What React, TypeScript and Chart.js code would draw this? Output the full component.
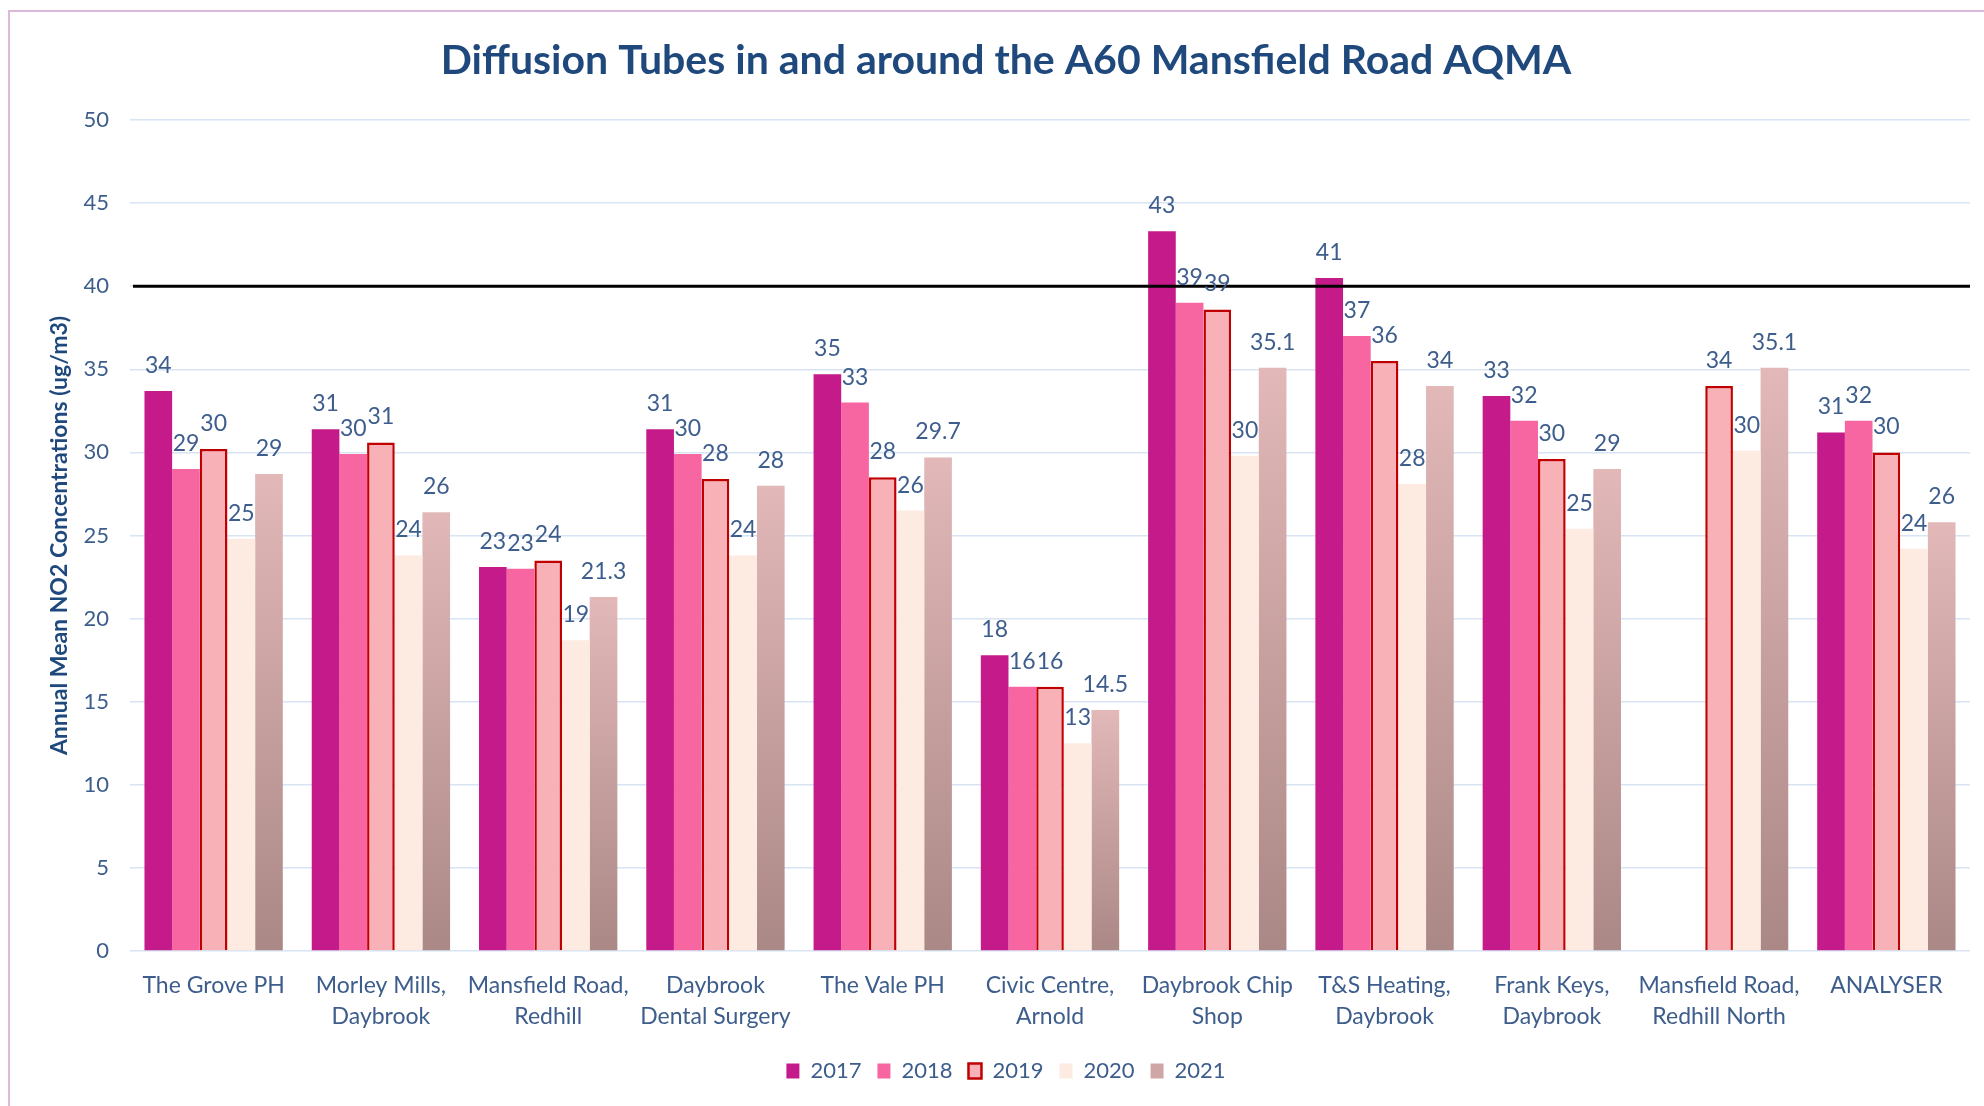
import React, { useEffect, useRef } from "react";
import { Chart, registerables } from "chart.js";

Chart.register(...registerables);

// ---- data ----
const categories: string[][] = [
  ["The Grove PH"],
  ["Morley Mills,", "Daybrook"],
  ["Mansfield Road,", "Redhill"],
  ["Daybrook", "Dental Surgery"],
  ["The Vale PH"],
  ["Civic Centre,", "Arnold"],
  ["Daybrook Chip", "Shop"],
  ["T&S Heating,", "Daybrook"],
  ["Frank Keys,", "Daybrook"],
  ["Mansfield Road,", "Redhill North"],
  ["ANALYSER"],
];

const seriesNames = ["2017", "2018", "2019", "2020", "2021"];

const values2017 = [33.7, 31.4, 23.1, 31.4, 34.7, 17.8, 43.3, 40.5, 33.4, null, 31.2];
const values2018 = [29.0, 29.9, 23.0, 29.9, 33.0, 15.9, 39.0, 37.0, 31.9, null, 31.9];
const values2019 = [30.2, 30.6, 23.5, 28.4, 28.5, 15.9, 38.6, 35.5, 29.6, 34.0, 30.0];
const values2020 = [24.8, 23.8, 18.7, 23.8, 26.5, 12.5, 29.8, 28.1, 25.4, 30.1, 24.2];
const values2021 = [28.7, 26.4, 21.3, 28.0, 29.7, 14.5, 35.1, 34.0, 29.0, 35.1, 25.8];

const labels2017 = ["34", "31", "23", "31", "35", "18", "43", "41", "33", "", "31"];
const labels2018 = ["29", "30", "23", "30", "33", "16", "39", "37", "32", "", "32"];
const labels2019 = ["30", "31", "24", "28", "28", "16", "39", "36", "30", "34", "30"];
const labels2020 = ["25", "24", "19", "24", "26", "13", "30", "28", "25", "30", "24"];
const labels2021 = ["29", "26", "21.3", "28", "29.7", "14.5", "35.1", "34", "29", "35.1", "26"];

const LIMIT_VALUE = 40;
const Y_MIN = 0;
const Y_MAX = 50;
const Y_STEP = 5;

const TITLE = "Diffusion Tubes in and around the A60 Mansfield Road AQMA";
const Y_TITLE = "Annual Mean NO2 Concentrations (ug/m3)";

// ---- styles ----
const FONT = "Lato";
const TEXT_BLUE = "#3D5D8C";
const TITLE_BLUE = "#1F497D";
const C2017 = "#C51B8A";
const C2018 = "#F766A1";
const C2019 = "#F9B1B8";
const C2019_BORDER = "#C00000";
const C2020 = "#FDEBE2";
const C2021_TOP = "#E2B8B8";
const C2021_BOTTOM = "#AA8886";
const C2021_MID = "#CDA6A5";

export default function App() {
  const ref = useRef<HTMLCanvasElement>(null);

  useEffect(() => {
    const canvas = ref.current;
    if (!canvas) return;

    const valueLabels = [labels2017, labels2018, labels2019, labels2020, labels2021];

    const gradient2021 = (ctx: any) => {
      const chart = ctx.chart;
      if (!chart.chartArea || ctx.type !== "data" || ctx.raw == null) return C2021_MID;
      const y = chart.scales.y;
      const top = y.getPixelForValue(ctx.raw);
      const bottom = y.getPixelForValue(0);
      const g = chart.ctx.createLinearGradient(0, top, 0, bottom);
      g.addColorStop(0, C2021_TOP);
      g.addColorStop(1, C2021_BOTTOM);
      return g;
    };

    const annotate = {
      id: "annotate",
      afterDatasetsDraw(chart: any) {
        const { ctx, chartArea, scales } = chart;
        const ly = scales.y.getPixelForValue(LIMIT_VALUE);
        ctx.save();
        ctx.strokeStyle = "#000000";
        ctx.lineWidth = 3;
        ctx.beginPath();
        ctx.moveTo(chartArea.left + 3, ly);
        ctx.lineTo(chartArea.right, ly);
        ctx.stroke();

        ctx.font = `23px ${FONT}`;
        ctx.fillStyle = TEXT_BLUE;
        ctx.textAlign = "center";
        ctx.textBaseline = "alphabetic";
        chart.data.datasets.forEach((ds: any, di: number) => {
          const meta = chart.getDatasetMeta(di);
          meta.data.forEach((bar: any, i: number) => {
            if (ds.data[i] == null) return;
            const txt = valueLabels[di][i];
            if (!txt) return;
            ctx.fillText(txt, bar.x, bar.y - 18);
          });
        });
        ctx.restore();
      },
    };

    const legendFill = [C2017, C2018, C2019, C2020, C2021_MID];
    const legendStroke = [C2017, C2018, C2019_BORDER, C2020, C2021_MID];
    const legendLine = [0, 0, 2.5, 0, 0];

    const chart = new Chart(canvas, {
      type: "bar",
      data: {
        labels: categories,
        datasets: [
          { label: seriesNames[0], data: values2017, backgroundColor: C2017, borderWidth: 0 },
          { label: seriesNames[1], data: values2018, backgroundColor: C2018, borderWidth: 0 },
          {
            label: seriesNames[2],
            data: values2019,
            backgroundColor: C2019,
            borderColor: C2019_BORDER,
            borderWidth: 2.5,
            borderSkipped: "start",
          },
          { label: seriesNames[3], data: values2020, backgroundColor: C2020, borderWidth: 0 },
          { label: seriesNames[4], data: values2021, backgroundColor: gradient2021, borderWidth: 0 },
        ] as any,
      },
      options: {
        responsive: false,
        animation: false,
        devicePixelRatio: 1,
        datasets: {
          bar: { categoryPercentage: 0.827, barPercentage: 1.0 },
        },
        layout: { padding: { left: 32, right: 32, top: 0, bottom: 14 } },
        plugins: {
          tooltip: { enabled: false },
          title: {
            display: true,
            text: TITLE,
            color: TITLE_BLUE,
            font: { family: FONT, size: 41, weight: "bold", lineHeight: 1.2 },
            padding: { top: 24, bottom: 34.8 },
          },
          legend: {
            display: true,
            position: "bottom",
            labels: {
              color: TEXT_BLUE,
              font: { family: FONT, size: 22 },
              boxWidth: 13,
              boxHeight: 15,
              padding: 16,
              generateLabels: () =>
                seriesNames.map((name, i) => ({
                  text: name,
                  fillStyle: legendFill[i],
                  strokeStyle: legendStroke[i],
                  lineWidth: legendLine[i],
                  hidden: false,
                  datasetIndex: i,
                  fontColor: TEXT_BLUE,
                })) as any,
            },
          },
        },
        scales: {
          x: {
            grid: { display: false, drawTicks: false },
            border: { display: false },
            ticks: {
              color: TEXT_BLUE,
              font: { family: FONT, size: 23, lineHeight: 1.35 },
              padding: 19.5,
              autoSkip: false,
              maxRotation: 0,
              minRotation: 0,
            },
            afterFit: (s: any) => {
              s.height = 93;
            },
          },
          y: {
            min: Y_MIN,
            max: Y_MAX,
            ticks: {
              stepSize: Y_STEP,
              color: TEXT_BLUE,
              font: { family: FONT, size: 22 },
              padding: 21,
            },
            grid: { color: "#D8E4F3", lineWidth: 1.5, drawTicks: false },
            border: { display: false },
            title: {
              display: true,
              text: Y_TITLE,
              color: TITLE_BLUE,
              font: { family: FONT, size: 23, weight: "bold" },
              padding: { top: 3.5, bottom: 0 },
            },
            afterFit: (s: any) => {
              s.width = 88;
            },
          },
        },
      } as any,
      plugins: [annotate],
    });

    return () => chart.destroy();
  }, []);

  return (
    <div
      style={{
        position: "fixed",
        left: 0,
        top: 0,
        width: 1984,
        height: 1106,
        overflow: "hidden",
        background: "#ffffff",
      }}
    >
      <div
        style={{
          position: "absolute",
          left: 8,
          top: 10,
          width: 2000,
          height: 1200,
          border: "2px solid #DCB9DD",
          background: "#ffffff",
        }}
      >
        <canvas
          ref={ref}
          width={1992}
          height={1094}
          style={{ display: "block", width: 1992, height: 1094 }}
        />
      </div>
    </div>
  );
}
